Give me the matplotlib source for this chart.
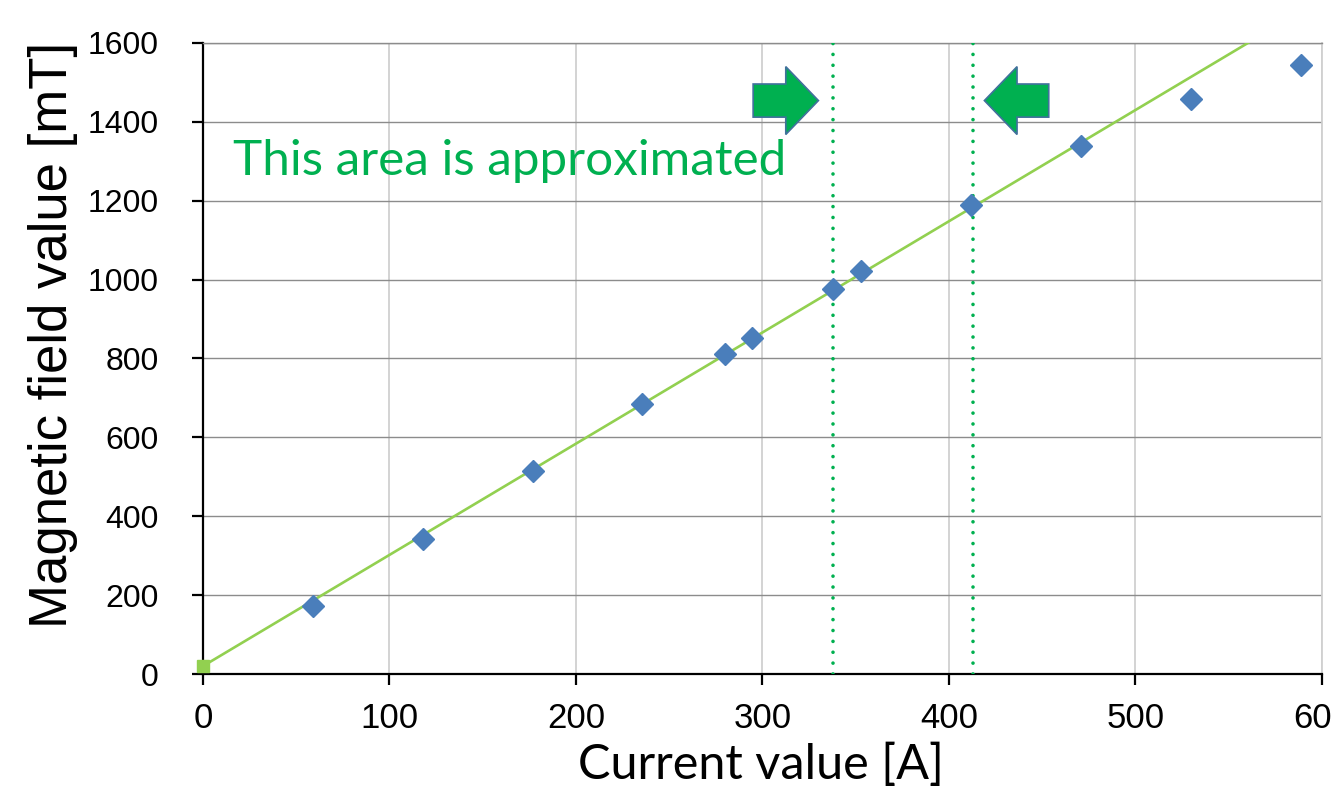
import matplotlib.pyplot as plt
from matplotlib.patches import FancyArrow

# measured coil current [A] vs. magnetic field [mT]
current = [59, 118, 177, 235.5, 280, 294.5, 338, 353, 412, 471, 530, 589]
field = [172, 343, 515, 685, 812, 853, 977, 1023, 1190, 1340, 1457, 1543]

# linear fit through the low-current region
fit_x = [0, 600]
fit_y = [20, 1712]

# bounds of the approximated region
region_x = [338, 413]

x_ticks = [0, 100, 200, 300, 400, 500, 600]
y_ticks = [0, 200, 400, 600, 800, 1000, 1200, 1400, 1600]

fig = plt.figure(figsize=(13.31, 8.02), dpi=100)
ax = fig.add_axes([0.1525, 0.1596, 0.8407, 0.7868])

ax.set_xlim(0, 600)
ax.set_ylim(0, 1600)
ax.set_xticks(x_ticks)
ax.set_yticks(y_ticks)

ax.grid(axis='x', color='#d0d0d0', lw=1.3)
ax.grid(axis='y', color='#8c8c8c', lw=1.0)
ax.set_axisbelow(True)

for side in ['left', 'bottom']:
    ax.spines[side].set_color('black')
    ax.spines[side].set_linewidth(1.6)
ax.spines['top'].set_color('#8c8c8c')
ax.spines['top'].set_linewidth(1.0)
ax.spines['right'].set_color('#d0d0d0')
ax.spines['right'].set_linewidth(1.3)

ax.tick_params(direction='out', length=8, width=1.6, color='black')
ax.tick_params(axis='y', labelsize=23, pad=24)
ax.tick_params(axis='x', labelsize=25, pad=12)
for lab in ax.get_xticklabels() + ax.get_yticklabels():
    lab.set_family('Liberation Sans')

# fit line, with a square marker at its start
ax.plot(fit_x, fit_y, color='#92d050', lw=1.9, zorder=3)
ax.plot(fit_x[0], fit_y[0], marker='s', ms=8, color='#92d050',
        clip_on=False, zorder=4)

ax.plot(current, field, linestyle='none', marker='D', ms=11,
        color='#4a7ebb', mec='#4a7ebb', zorder=5)

for xv in region_x:
    ax.axvline(xv, color='#00b050', lw=2.6, linestyle=(0, (0.01, 3.0)),
               dash_capstyle='round', zorder=4)

ax.text(16, 1266, 'This area is approximated', color='#00b050',
        fontsize=35.6, family='Lato', ha='left', va='baseline')

# arrows pointing into the approximated region
arrow_kw = dict(width=84, head_width=172, head_length=17.5,
                length_includes_head=True, facecolor='#00b050',
                edgecolor='#41719c', lw=1.2, zorder=6)
ax.add_patch(FancyArrow(295, 1454, region_x[0] - 8 - 295, 0, **arrow_kw))
ax.add_patch(FancyArrow(453.5, 1454, region_x[1] + 6 - 453.5, 0, **arrow_kw))

ax.set_xlabel('Current value [A]', fontsize=35, family='Lato', va='center')
ax.xaxis.set_label_coords(0.4987, -0.144)
ax.set_ylabel('Magnetic field value [mT]', fontsize=38,
              family='Liberation Sans', va='center')
ax.yaxis.set_label_coords(-0.134, 0.537)

fig.savefig('out.png', dpi=100)
